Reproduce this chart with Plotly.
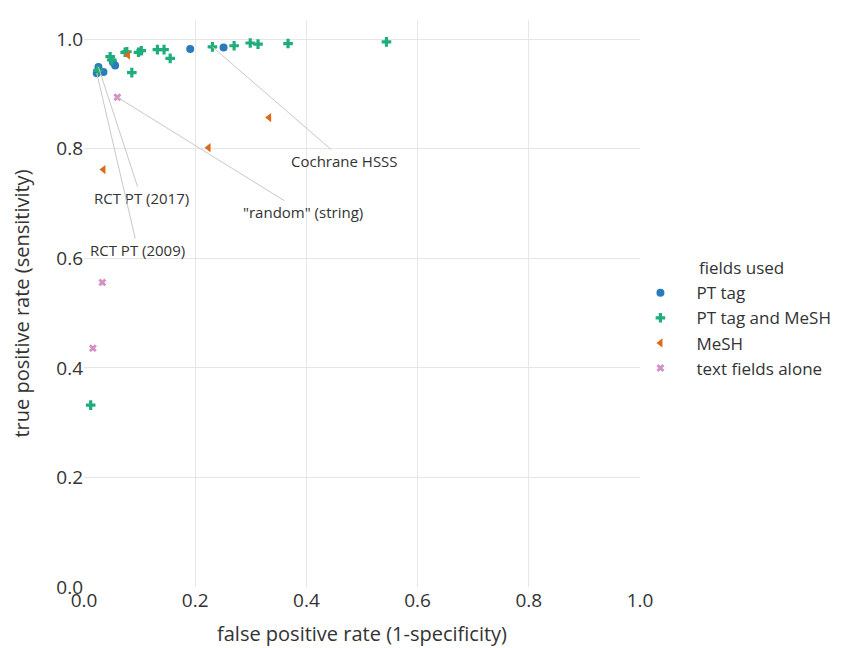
import plotly.graph_objects as go

# ---- data ----
pt_x = [0.026, 0.023, 0.035, 0.052, 0.056, 0.191, 0.251]
pt_y = [0.949, 0.938, 0.940, 0.958, 0.952, 0.982, 0.985]

ptm_x = [0.025, 0.047, 0.050, 0.074, 0.077, 0.086, 0.098, 0.103, 0.132, 0.144,
         0.155, 0.231, 0.270, 0.299, 0.313, 0.367, 0.544, 0.012]
ptm_y = [0.943, 0.968, 0.962, 0.976, 0.977, 0.939, 0.976, 0.979, 0.981, 0.981,
         0.965, 0.986, 0.988, 0.993, 0.991, 0.992, 0.995, 0.332]

mesh_x = [0.079, 0.333, 0.224, 0.035]
mesh_y = [0.971, 0.857, 0.802, 0.762]

txt_x = [0.060, 0.033, 0.016]
txt_y = [0.894, 0.556, 0.436]

series_names = ["PT tag", "PT tag and MeSH", "MeSH", "text fields alone"]
legend_title = "fields used"
tick_vals = [0.0, 0.2, 0.4, 0.6, 0.8, 1.0]
tick_text = ["0.0", "0.2", "0.4", "0.6", "0.8", "1.0"]

label_names = ["Cochrane HSSS", "\"random\" (string)", "RCT PT (2017)", "RCT PT (2009)"]

FONT = "Open Sans"
TXT = "#333333"
colors = ["#2a7bbb", "#1fae7a", "#dd6a1b", "#d48fc6"]
symbols = ["circle", "cross", "triangle-left", "x"]
sizes = [8, 8, 8, 7]

fig = go.Figure()
for name, xs, ys, c, s, sz in zip(series_names,
                                  [pt_x, ptm_x, mesh_x, txt_x],
                                  [pt_y, ptm_y, mesh_y, txt_y],
                                  colors, symbols, sizes):
    fig.add_trace(go.Scatter(
        x=xs, y=ys, mode="markers", name=name,
        marker=dict(color=c, symbol=s, size=sz, line=dict(width=0)),
    ))

# annotations: (label, point, text centre)
ann_points = [(ptm_x[11], ptm_y[11]), (txt_x[0], txt_y[0]),
              (pt_x[0], pt_y[0]), (pt_x[1], pt_y[1])]
ann_text_pos = [(0.469, 0.777), (0.394, 0.684), (0.103, 0.710), (0.097, 0.615)]
for lab, (px, py), (tx, ty) in zip(label_names, ann_points, ann_text_pos):
    fig.add_annotation(
        x=px, y=py, xref="x", yref="y",
        ax=tx, ay=ty, axref="x", ayref="y",
        text=lab, showarrow=True, arrowhead=0, arrowwidth=1,
        arrowcolor="#c8c8c8", standoff=0, startstandoff=0,
        font=dict(family=FONT, size=15, color=TXT),
    )

# legend title placed as text
fig.add_annotation(
    x=1.103, y=0.564, xref="paper", yref="paper",
    xanchor="left", yanchor="middle", showarrow=False,
    text=legend_title, font=dict(family=FONT, size=17, color=TXT),
)

fig.update_layout(
    width=842, height=648,
    margin=dict(l=76, r=210, t=12, b=69),
    paper_bgcolor="white", plot_bgcolor="white",
    font=dict(family=FONT, size=16, color=TXT),
    showlegend=True,
    legend=dict(
        x=0.972, y=0.55, xanchor="left", yanchor="top",
        font=dict(family=FONT, size=17, color=TXT),
        itemwidth=62,
        bgcolor="rgba(0,0,0,0)",
    ),
    xaxis=dict(
        range=[0, 1], tickvals=tick_vals, ticktext=tick_text,
        showgrid=True, gridcolor="#e6e6e6", gridwidth=1,
        zeroline=False, showline=False, ticks="", automargin=False,
        tickfont=dict(family=FONT, size=19, color=TXT),
        title=dict(text="false positive rate (1-specificity)",
                   font=dict(family=FONT, size=20, color=TXT), standoff=14),
    ),
    yaxis=dict(
        range=[0, 1.035], tickvals=tick_vals, ticktext=tick_text,
        showgrid=True, gridcolor="#e6e6e6", gridwidth=1,
        zeroline=False, showline=False, ticks="", automargin=False,
        tickfont=dict(family=FONT, size=19, color=TXT),
        title=dict(text="true positive rate (sensitivity)",
                   font=dict(family=FONT, size=20, color=TXT), standoff=26),
    ),
)

fig.write_html("out.html")
